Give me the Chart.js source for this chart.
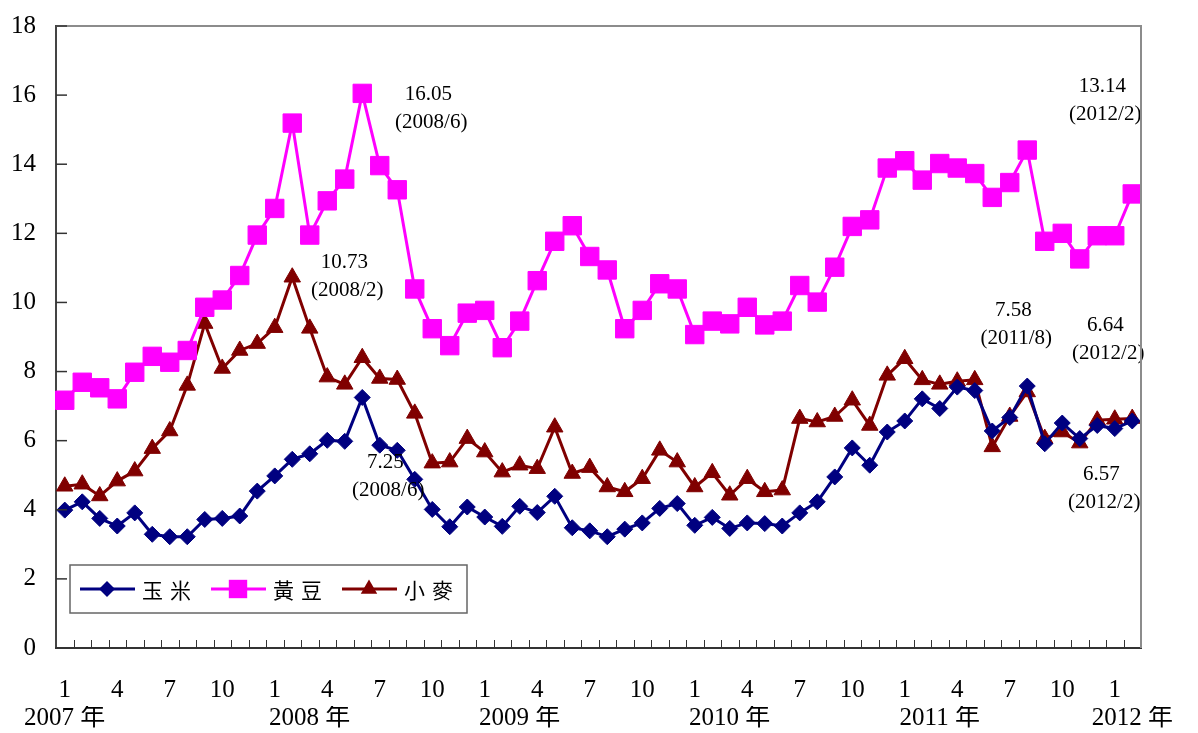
<!DOCTYPE html>
<html>
<head>
<meta charset="utf-8">
<script src="https://cdn.jsdelivr.net/npm/chart.js@4.4.0/dist/chart.umd.min.js"></script>
<style>
  html, body { margin: 0; padding: 0; background: #fff; }
</style>
</head>
<body>
<canvas id="grafico" width="1198" height="733"></canvas>
<script>
// Precios mensuales 2007/1 - 2012/2
const meses = [
  '2007/1','2007/2','2007/3','2007/4','2007/5','2007/6','2007/7','2007/8','2007/9','2007/10','2007/11','2007/12',
  '2008/1','2008/2','2008/3','2008/4','2008/5','2008/6','2008/7','2008/8','2008/9','2008/10','2008/11','2008/12',
  '2009/1','2009/2','2009/3','2009/4','2009/5','2009/6','2009/7','2009/8','2009/9','2009/10','2009/11','2009/12',
  '2010/1','2010/2','2010/3','2010/4','2010/5','2010/6','2010/7','2010/8','2010/9','2010/10','2010/11','2010/12',
  '2011/1','2011/2','2011/3','2011/4','2011/5','2011/6','2011/7','2011/8','2011/9','2011/10','2011/11','2011/12',
  '2012/1','2012/2'
];

const maiz = [
  3.99, 4.23, 3.75, 3.53, 3.91, 3.29, 3.22, 3.22, 3.72, 3.75, 3.82, 4.54,
  4.98, 5.46, 5.62, 6.01, 5.98, 7.25, 5.87, 5.72, 4.88, 4.01, 3.51, 4.08,
  3.79, 3.52, 4.10, 3.92, 4.39, 3.48, 3.39, 3.22, 3.44, 3.62, 4.04, 4.18,
  3.55, 3.78, 3.46, 3.62, 3.60, 3.53, 3.91, 4.23, 4.95, 5.79, 5.29, 6.25,
  6.57, 7.21, 6.93, 7.55, 7.45, 6.28, 6.67, 7.58, 5.91, 6.51, 6.06, 6.44,
  6.35, 6.57
];

const soya = [
  7.17, 7.69, 7.53, 7.21, 7.98, 8.44, 8.27, 8.61, 9.86, 10.07, 10.78, 11.95,
  12.72, 15.19, 11.95, 12.94, 13.57, 16.05, 13.96, 13.26, 10.39, 9.24, 8.75, 9.69,
  9.77, 8.69, 9.46, 10.63, 11.77, 12.22, 11.33, 10.94, 9.24, 9.77, 10.54, 10.39,
  9.07, 9.46, 9.38, 9.86, 9.35, 9.46, 10.49, 10.01, 11.02, 12.20, 12.39, 13.89,
  14.10, 13.54, 14.02, 13.89, 13.73, 13.04, 13.47, 14.41, 11.77, 12.00, 11.26, 11.93,
  11.93, 13.14
];

const trigo = [
  4.68, 4.74, 4.40, 4.83, 5.12, 5.77, 6.28, 7.60, 9.39, 8.09, 8.61, 8.81,
  9.27, 10.73, 9.25, 7.84, 7.63, 8.40, 7.80, 7.77, 6.79, 5.35, 5.38, 6.06,
  5.67, 5.09, 5.29, 5.19, 6.39, 5.05, 5.22, 4.66, 4.52, 4.90, 5.72, 5.38,
  4.66, 5.07, 4.42, 4.90, 4.52, 4.57, 6.64, 6.54, 6.70, 7.17, 6.44, 7.89,
  8.37, 7.76, 7.63, 7.72, 7.76, 5.82, 6.70, 7.41, 6.06, 6.25, 5.93, 6.59,
  6.62, 6.64
];

const nombres = ['玉米', '黃豆', '小麥'];
const ejeY = [0, 2, 4, 6, 8, 10, 12, 14, 16, 18];
const mesesVisibles = ['1', '4', '7', '10'];

// notas sobre los puntos: serie, índice del mes, desplazamiento del texto
const notas = [
  { serie: 1, idx: 17, dx: 66, dy: 1 },
  { serie: 2, idx: 13, dx: 52, dy: -15 },
  { serie: 0, idx: 17, dx: 23, dy: 65 },
  { serie: 0, idx: 55, dx: -14, dy: -76 },
  { serie: 2, idx: 61, dx: -27, dy: -93 },
  { serie: 0, idx: 61, dx: -31, dy: 54 },
  { serie: 1, idx: 61, dx: -30, dy: -107 }
];

const serif = "'Liberation Serif', 'Noto Sans CJK TC', serif";
const cjk = "'Noto Sans CJK TC', sans-serif";

// dibuja un marcador sencillo (leyenda)
function marcador(ctx, estilo, x, y, r) {
  ctx.beginPath();
  if (estilo === 'rectRot') {
    ctx.moveTo(x, y - r); ctx.lineTo(x + r, y); ctx.lineTo(x, y + r); ctx.lineTo(x - r, y);
  } else if (estilo === 'rect') {
    const s = r * Math.SQRT1_2;
    ctx.rect(x - s, y - s, 2 * s, 2 * s);
  } else {
    ctx.moveTo(x, y - r);
    ctx.lineTo(x + r * 0.866, y + r / 2);
    ctx.lineTo(x - r * 0.866, y + r / 2);
  }
  ctx.closePath();
  ctx.fill();
}

const marcoYTicks = {
  id: 'marcoYTicks',
  afterDraw(chart) {
    const { ctx, chartArea: a, scales } = chart;
    ctx.save();
    // borde superior y derecho
    ctx.strokeStyle = '#8c8c8c';
    ctx.lineWidth = 2;
    ctx.beginPath();
    ctx.moveTo(a.left, a.top); ctx.lineTo(a.right, a.top); ctx.lineTo(a.right, a.bottom);
    ctx.stroke();
    // marcas hacia adentro
    ctx.strokeStyle = '#333';
    ctx.lineWidth = 1.5;
    scales.y.ticks.forEach((t, i) => {
      if (t.value === 0) return;
      const py = scales.y.getPixelForTick(i);
      ctx.beginPath(); ctx.moveTo(a.left, py); ctx.lineTo(a.left + 11, py); ctx.stroke();
    });
    ctx.lineWidth = 1;
    for (let i = 1; i < meses.length; i++) {
      const px = Math.round(scales.x.getPixelForValue(i - 0.5)) + 0.5;
      ctx.beginPath(); ctx.moveTo(px, a.bottom); ctx.lineTo(px, a.bottom - 8); ctx.stroke();
    }
    ctx.restore();
  }
};

const notasPlugin = {
  id: 'notas',
  afterDatasetsDraw(chart) {
    const ctx = chart.ctx;
    ctx.save();
    ctx.fillStyle = '#000';
    ctx.font = '21px ' + serif;
    ctx.textAlign = 'center';
    ctx.textBaseline = 'middle';
    notas.forEach(n => {
      const p = chart.getDatasetMeta(n.serie).data[n.idx];
      const valor = chart.data.datasets[n.serie].data[n.idx];
      ctx.fillText(valor.toFixed(2), p.x + n.dx, p.y + n.dy);
      ctx.fillText('(' + meses[n.idx] + ')', p.x + n.dx + 3, p.y + n.dy + 28);
    });
    ctx.restore();
  }
};

const leyenda = {
  id: 'leyendaInterna',
  afterDraw(chart) {
    const { ctx, chartArea: a } = chart;
    const left = a.left + 14, top = a.bottom - 83, w = 397, h = 48;
    const cy = top + h / 2;
    ctx.save();
    ctx.fillStyle = '#fff';
    ctx.fillRect(left, top, w, h);
    ctx.strokeStyle = '#666';
    ctx.lineWidth = 1.5;
    ctx.strokeRect(left, top, w, h);
    chart.data.datasets.forEach((ds, i) => {
      const x0 = left + 10 + i * 131;
      ctx.strokeStyle = ds.borderColor;
      ctx.lineWidth = 3;
      ctx.beginPath(); ctx.moveTo(x0, cy); ctx.lineTo(x0 + 55, cy); ctx.stroke();
      ctx.fillStyle = ds.pointBackgroundColor;
      marcador(ctx, ds.pointStyle, x0 + 27, cy, ds.pointRadius);
      ctx.fillStyle = '#000';
      ctx.font = '21px ' + cjk;
      ctx.textAlign = 'left';
      ctx.textBaseline = 'middle';
      [...ds.label].forEach((c, k) => ctx.fillText(c, x0 + 62 + k * 28, cy + 1));
    });
    ctx.restore();
  }
};

function serie(label, data, color, estilo, radio) {
  return {
    label, data,
    borderColor: color,
    backgroundColor: color,
    borderWidth: 3,
    pointStyle: estilo,
    pointRadius: radio,
    pointHoverRadius: radio,
    pointBackgroundColor: color,
    pointBorderColor: color,
    pointBorderWidth: 1,
    tension: 0
  };
}

new Chart(document.getElementById('grafico'), {
  type: 'line',
  data: {
    labels: meses,
    datasets: [
      serie(nombres[0], maiz, '#000080', 'rectRot', 8),
      serie(nombres[1], soya, '#FF00FF', 'rect', 13),
      serie(nombres[2], trigo, '#800000', 'triangle', 9.5)
    ]
  },
  options: {
    responsive: false,
    animation: false,
    layout: { padding: { left: 0, right: 57, top: 26, bottom: 0 } },
    plugins: { legend: { display: false }, tooltip: { enabled: false } },
    scales: {
      y: {
        min: ejeY[0],
        max: ejeY[ejeY.length - 1],
        afterBuildTicks: s => { s.ticks = ejeY.map(v => ({ value: v })); },
        afterFit: s => { s.width = 56; s.paddingTop = 0; s.paddingBottom = 0; },
        grid: { display: false, drawTicks: false },
        border: { display: true, color: '#444', width: 2 },
        ticks: { color: '#000', padding: 20, font: { family: serif, size: 25 } }
      },
      x: {
        type: 'category',
        position: 'bottom',
        offset: true,
        afterFit: s => { s.height = 58; },
        grid: { display: false, drawTicks: false, offset: true },
        border: { display: true, color: '#333', width: 2 },
        ticks: {
          autoSkip: false, maxRotation: 0, minRotation: 0,
          color: '#000', padding: 27,
          font: { family: serif, size: 25 },
          callback: (v, i) => {
            const m = meses[i].split('/')[1];
            return mesesVisibles.includes(m) ? m : '';
          }
        }
      },
      anio: {
        type: 'category',
        position: 'bottom',
        offset: true,
        labels: meses,
        afterFit: s => { s.height = 27; },
        grid: { display: false, drawTicks: false },
        border: { display: false },
        ticks: {
          autoSkip: false, maxRotation: 0, minRotation: 0,
          color: '#000', padding: 0,
          font: { family: serif, size: 25, lineHeight: 1 },
          callback: (v, i) => {
            const [a, m] = meses[i].split('/');
            if (i === 0 || (m === '3' && a !== '2007') || i === meses.length - 1) return a + ' 年';
            return '';
          }
        }
      }
    }
  },
  plugins: [marcoYTicks, notasPlugin, leyenda]
});
</script>
</body>
</html>
